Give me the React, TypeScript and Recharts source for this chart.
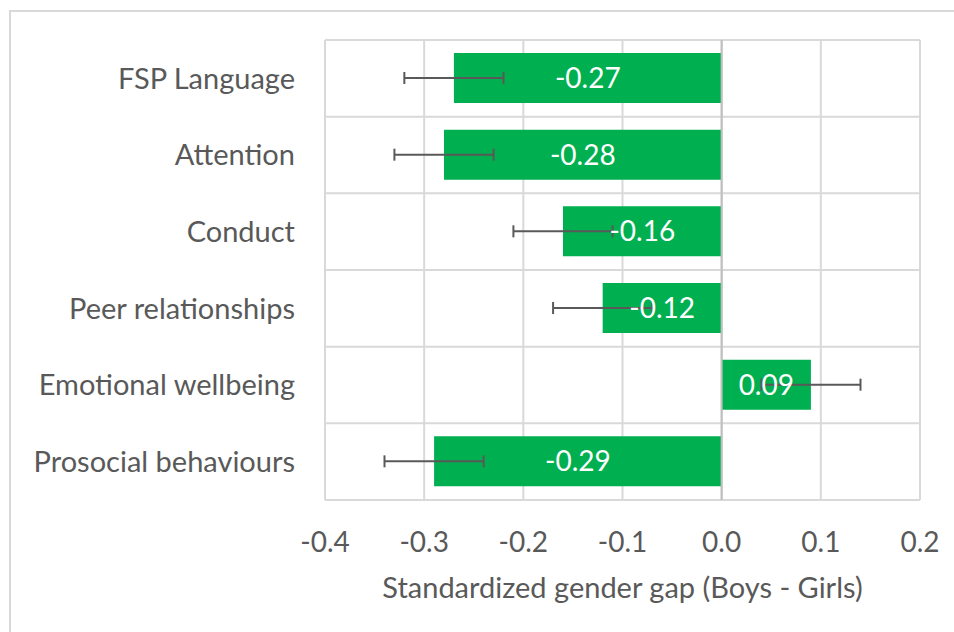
import {
  Bar,
  BarChart,
  CartesianGrid,
  ErrorBar,
  LabelList,
  ReferenceLine,
  XAxis,
  YAxis,
} from "recharts";

const categories = [
  "FSP Language",
  "Attention",
  "Conduct",
  "Peer relationships",
  "Emotional wellbeing",
  "Prosocial behaviours",
];
const gapValues = [-0.27, -0.28, -0.16, -0.12, 0.09, -0.29];
const errorValues = [0.05, 0.05, 0.05, 0.05, 0.05, 0.05];
const xTicks = [-0.4, -0.3, -0.2, -0.1, 0.0, 0.1, 0.2];
const axisTitle = "Standardized gender gap (Boys - Girls)";

const FONT = "Lato, 'Open Sans', sans-serif";
const TEXT = "#595959";
const GRID = "#D9D9D9";
const GREEN = "#00B050";

const data = categories.map((name, i) => ({
  name,
  value: gapValues[i],
  err: errorValues[i],
}));

function XTick({ x, y, payload }: any) {
  return (
    <text
      x={x}
      y={y + 39}
      textAnchor="middle"
      dominantBaseline="central"
      fill={TEXT}
      fontSize={28}
      fontFamily={FONT}
    >
      {Number(payload.value).toFixed(1)}
    </text>
  );
}

export default function App() {
  return (
    <div
      style={{
        position: "absolute",
        left: 0,
        top: 0,
        width: 954,
        height: 632,
        background: "#fff",
        overflow: "hidden",
      }}
    >
      <div
        style={{
          position: "absolute",
          left: 9,
          top: 10,
          width: 1000,
          height: 700,
          border: `2px solid ${GRID}`,
        }}
      />
      <div style={{ position: "absolute", left: 0, top: 0 }}>
        <BarChart
          width={954}
          height={632}
          data={data}
          layout="vertical"
          margin={{ top: 40, right: 34, bottom: 0, left: 0 }}
        >
          <CartesianGrid
            stroke={GRID}
            strokeWidth={2}
            horizontalCoordinatesGenerator={({ offset }: any) =>
              categories
                .map((_, i) => offset.top + (i * offset.height) / categories.length)
                .concat(offset.top + offset.height)
            }
          />
          <XAxis
            type="number"
            domain={[-0.4, 0.2]}
            ticks={xTicks}
            height={132}
            axisLine={false}
            tickLine={false}
            tickSize={0}
            tick={<XTick />}
            label={{
              value: axisTitle,
              position: "insideTop",
              offset: 77,
              fill: TEXT,
              fontSize: 29,
              fontFamily: FONT,
            }}
          />
          <YAxis
            type="category"
            dataKey="name"
            width={325}
            axisLine={false}
            tickLine={false}
            tickSize={0}
            tickMargin={30}
            tick={{ fill: TEXT, fontSize: 29, fontFamily: FONT }}
          />
          <ReferenceLine x={0} stroke="#BFBFBF" strokeWidth={2} />
          <Bar dataKey="value" fill={GREEN} barSize={50} isAnimationActive={false}>
            <ErrorBar
              dataKey="err"
              direction="x"
              width={6}
              stroke={TEXT}
              strokeWidth={2}
            />
            <LabelList
              dataKey="value"
              position="center"
              fill="#fff"
              fontSize={28}
              fontFamily={FONT}
              formatter={(v: any) => Number(v).toFixed(2)}
            />
          </Bar>
        </BarChart>
      </div>
    </div>
  );
}
